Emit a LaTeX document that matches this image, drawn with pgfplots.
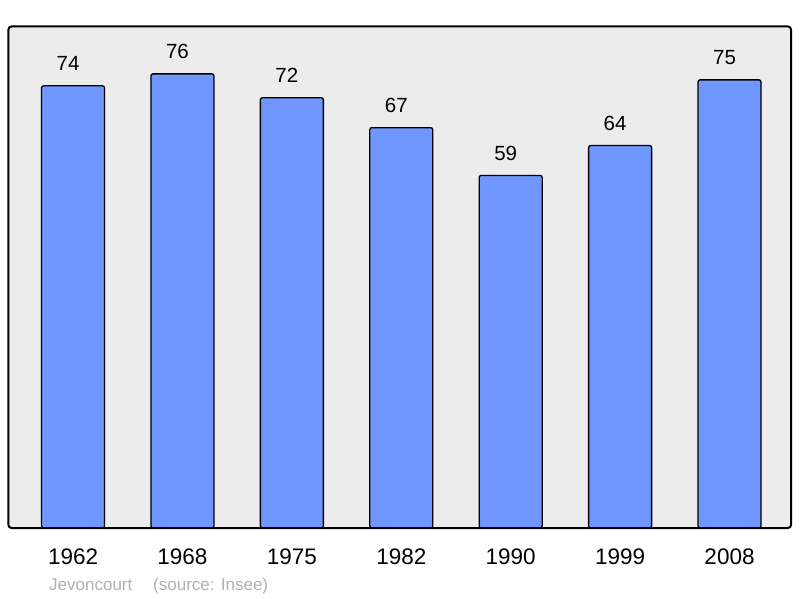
\documentclass[border=0pt]{standalone}
\usepackage{pgfplots}
\pgfplotsset{compat=1.18}
\usepackage{fontspec}
\setmainfont{Liberation Sans}
\definecolor{bgc}{RGB}{236,236,236}
\definecolor{barc}{RGB}{112,150,255}
\definecolor{capc}{RGB}{176,176,176}
\begin{document}
\begin{tikzpicture}[x=1pt,y=1pt]
\useasboundingbox (0,0) rectangle (800,598);
\begin{axis}[
  at={(8.5pt,70pt)}, anchor=south west,
  scale only axis, width=782.5pt, height=501.5pt,
  xmin=-0.59, xmax=6.562, ymin=0, ymax=83.93,
  /pgf/number format/assume math mode=true,
  axis line style={draw=none},
  axis background/.style={fill=bgc},
  xtick=data,
  xticklabels={1962,1968,1975,1982,1990,1999,2008},
  xtick style={draw=none},
  ytick=\empty,
  xticklabel style={anchor=base, yshift=-32pt, font=\fontsize{22.5}{26}\selectfont},
  ybar, bar width=63pt,
  nodes near coords,
  every node near coord/.append style={anchor=base, yshift=15pt, xshift=-5pt, font=\fontsize{20.5}{24}\selectfont, black},
  clip=false,
]
\addplot[fill=barc, draw=black, line width=1.3pt, rounded corners=2pt] coordinates {
(0,74) (1,76) (2,72) (3,67) (4,59) (5,64) (6,75)};
\draw[line width=2pt, rounded corners=3pt] (rel axis cs:0,0) rectangle (rel axis cs:1,1);
\end{axis}
\node[anchor=base west, text=capc, font=\fontsize{17}{20}\selectfont, inner sep=0pt] at (49,8) {Jevoncourt};
\node[anchor=base west, text=capc, font=\fontsize{17}{20}\selectfont, inner sep=0pt] at (153,8) {(source: Insee)};
\end{tikzpicture}
\end{document}
